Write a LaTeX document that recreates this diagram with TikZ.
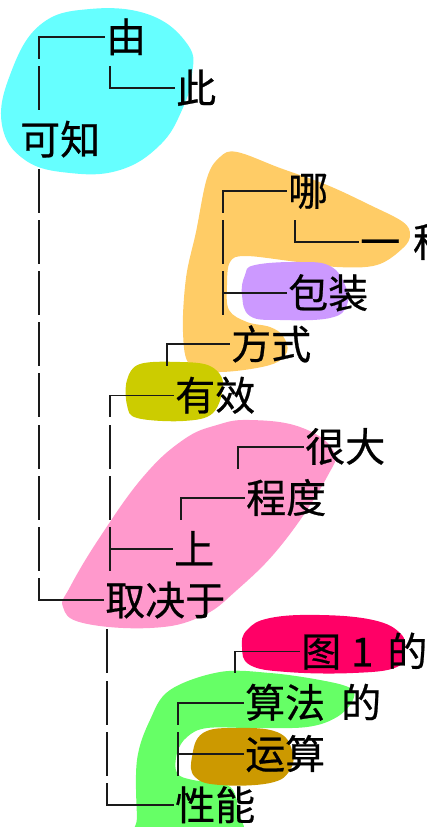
\documentclass[tikz,border=0pt]{standalone}
\usepackage{fontspec}
\setmainfont{Noto Sans CJK SC}[FakeBold=0.6]
\definecolor{bcyan}{HTML}{66FFFF}
\definecolor{borange}{HTML}{FFCC66}
\definecolor{bpurple}{HTML}{CC99FF}
\definecolor{bolive}{HTML}{CCCC00}
\definecolor{bpink}{HTML}{FF99CC}
\definecolor{bmagenta}{HTML}{FF0066}
\definecolor{bgreen}{HTML}{66FF66}
\definecolor{bbrown}{HTML}{CC9900}
\definecolor{ink}{HTML}{1A1A1A}
\begin{document}
\begin{tikzpicture}[x=1pt,y=-1pt,
  lbl/.style={anchor=west, inner xsep=2pt, inner ysep=0pt, text height=33pt, text depth=3pt,
              font=\fontsize{40}{48}\selectfont, text=black},
  vline/.style={line width=1.8pt, draw=ink, line cap=rect, dash pattern=on 42.2pt off 9pt, dash phase=21.1pt},
  hline/.style={line width=1.8pt, draw=ink, line cap=rect}]
\useasboundingbox (0,0) rectangle (426,827);

% background blobs
\fill[bcyan] plot[smooth cycle, tension=0.7] coordinates {(2,125) (10,75) (40,25) (90,9) (150,15) (188,45) (192,75) (182,110) (160,145) (120,170) (70,173) (25,160)};
\fill[borange] plot[smooth cycle, tension=0.6] coordinates {(220,157) (237,152) (280,168) (327,185) (370,205) (403,222) (410,235) (403,248) (377,265) (337,267) (290,261) (245,256) (230,262) (227,285) (229,310) (247,322) (270,327) (283,336) (287,352) (270,365) (220,372) (190,365) (183,332) (186,278) (196,232) (207,178)};
\fill[bpurple] plot[smooth cycle, tension=0.7] coordinates {(255,265) (300,262) (330,266) (345,285) (347,305) (330,318) (280,320) (250,316) (242,295) (245,275)};
\fill[bolive] plot[smooth cycle, tension=0.6] coordinates {(140,364) (180,362) (210,366) (223,383) (213,413) (183,421) (137,418) (127,405) (127,380)};
\fill[bpink] plot[smooth cycle, tension=0.7] coordinates {(250,420) (300,427) (333,450) (327,477) (283,543) (237,590) (200,617) (150,628) (83,623) (63,607) (70,587) (100,537) (143,477) (183,440) (217,425)};
\fill[bmagenta] plot[smooth cycle, tension=0.7] coordinates {(247,630) (270,618) (320,615) (373,620) (400,633) (405,650) (397,667) (353,673) (287,672) (250,665) (242,647)};
\fill[bgreen] plot[smooth cycle, tension=0.6] coordinates {(220,672) (270,673) (320,680) (350,688) (353,700) (337,717) (307,727) (253,728) (207,728) (187,737) (177,753) (177,773) (193,780) (220,783) (233,790) (238,810) (237,840) (140,840) (137,817) (137,760) (150,720) (170,690)};
\fill[bbrown] plot[smooth cycle, tension=0.7] coordinates {(203,733) (237,728) (277,732) (292,750) (290,770) (270,783) (220,785) (195,777) (192,757)};

% labels
\node[lbl] (kezhi) at (18,139.4) {可知};
\node[lbl] (you) at (104,37) {由};
\node[lbl] (ci) at (174,88.2) {此};
\node[lbl] (na) at (286,190.6) {哪};
\node[lbl] (yizhong) at (358,241.8) {一\hspace{13pt}种};
\node[lbl] (baozhuang) at (286,293) {包装};
\node[lbl] (fangshi) at (229,344.2) {方式};
\node[lbl] (youxiao) at (173,395.4) {有效};
\node[lbl] (henda) at (303,446.6) {很大};
\node[lbl] (chengdu) at (244,497.8) {程度};
\node[lbl] (shang) at (172,549) {上};
\node[lbl] (qujueyu) at (103,600.2) {取决于};
\node[lbl] (tu) at (299,651.4) {图\hspace{10pt}1\hspace{14pt}的};
\node[lbl] (suanfa) at (243,702.6) {算法\hspace{16pt}的};
\node[lbl] (yunsuan) at (243,753.8) {运算};
\node[lbl] (xingneng) at (173,805) {性能};

% free ends of the connectors (at the parent side)
\coordinate (c1) at (39,109.3);
\coordinate (c2) at (110,67.1);
\coordinate (c3) at (39,169.5);
\coordinate (c4) at (110,570.1);
\coordinate (c5) at (107,630.3);
\coordinate (c6) at (167,365.3);
\coordinate (c7) at (223,314.1);
\coordinate (c8) at (295,220.7);
\coordinate (c9) at (181,518.9);
\coordinate (c10) at (238,467.7);
\coordinate (c11) at (178,774.9);
\coordinate (c12) at (235,672.5);

% connectors
\draw[vline] (you.west -| c1) -- (c1);            \draw[hline] (you.west -| c1) -- (you.west);
\draw[vline] (ci.west -| c2) -- (c2);             \draw[hline] (ci.west -| c2) -- (ci.west);
\draw[vline] (qujueyu.west -| c3) -- (c3);        \draw[hline] (qujueyu.west -| c3) -- (qujueyu.west);
\draw[vline] (youxiao.west -| c4) -- (c4);        \draw[hline] (youxiao.west -| c4) -- (youxiao.west);
\draw[vline] (shang.west -| c4) -- (c4);          \draw[hline] (shang.west -| c4) -- (shang.west);
\draw[vline] (xingneng.west -| c5) -- (c5);       \draw[hline] (xingneng.west -| c5) -- (xingneng.west);
\draw[vline] (fangshi.west -| c6) -- (c6);        \draw[hline] (fangshi.west -| c6) -- (fangshi.west);
\draw[vline] (na.west -| c7) -- (c7);             \draw[hline] (na.west -| c7) -- (na.west);
\draw[vline] (baozhuang.west -| c7) -- (c7);      \draw[hline] (baozhuang.west -| c7) -- (baozhuang.west);
\draw[vline] (yizhong.west -| c8) -- (c8);        \draw[hline] (yizhong.west -| c8) -- (yizhong.west);
\draw[vline] (chengdu.west -| c9) -- (c9);        \draw[hline] (chengdu.west -| c9) -- (chengdu.west);
\draw[vline] (henda.west -| c10) -- (c10);        \draw[hline] (henda.west -| c10) -- (henda.west);
\draw[vline] (suanfa.west -| c11) -- (c11);       \draw[hline] (suanfa.west -| c11) -- (suanfa.west);
\draw[vline] (yunsuan.west -| c11) -- (c11);      \draw[hline] (yunsuan.west -| c11) -- (yunsuan.west);
\draw[vline] (tu.west -| c12) -- (c12);           \draw[hline] (tu.west -| c12) -- (tu.west);
\end{tikzpicture}
\end{document}
